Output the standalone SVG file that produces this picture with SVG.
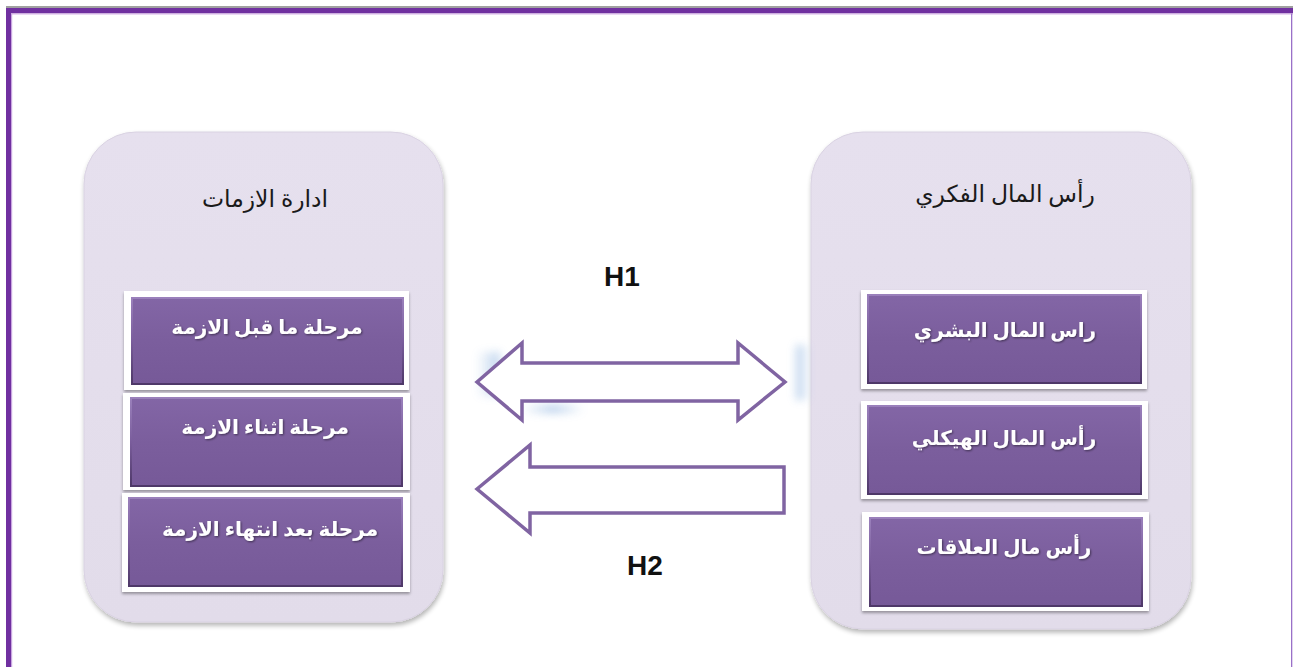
<svg xmlns="http://www.w3.org/2000/svg" width="1293" height="667" viewBox="0 0 1293 667">
<style>
.container{fill:url(#contGrad);stroke:#d9d2e2;stroke-width:1}
.boxOuter{fill:#ffffff}
.boxInner{fill:url(#boxGrad)}
.bevel{fill:none;stroke:url(#bevelGrad);stroke-width:2}
.title{font-family:"Liberation Serif","DejaVu Sans",serif;font-size:23.5px;fill:#1a1a1a;text-anchor:middle}
.label{font-family:"Liberation Serif","DejaVu Sans",serif;font-size:20px;font-weight:bold;fill:#ffffff;text-anchor:middle}
.h{font-family:"Liberation Sans",Arial,sans-serif;font-size:28px;font-weight:bold;fill:#111111;text-anchor:middle}
.arrow{fill:#ffffff;stroke:#8064a2;stroke-width:3.5;stroke-linejoin:miter}
</style>
<defs>
<linearGradient id="contGrad" x1="0" y1="0" x2="0" y2="1">
<stop offset="0" stop-color="#e6e0ee"/>
<stop offset="1" stop-color="#e2dcea"/>
</linearGradient>
<linearGradient id="boxGrad" x1="0" y1="0" x2="0" y2="1">
<stop offset="0" stop-color="#8366a6"/>
<stop offset="0.5" stop-color="#7b5e9d"/>
<stop offset="1" stop-color="#765998"/>
</linearGradient>
<linearGradient id="bevelGrad" x1="0" y1="0" x2="0" y2="1">
<stop offset="0" stop-color="#9a80bb"/>
<stop offset="0.5" stop-color="#7a5d9c"/>
<stop offset="1" stop-color="#4e3868"/>
</linearGradient>
<linearGradient id="blueH" x1="0" y1="0" x2="1" y2="0">
<stop offset="0" stop-color="#8fb4e0" stop-opacity="0"/>
<stop offset="0.5" stop-color="#8fb4e0" stop-opacity="0.9"/>
<stop offset="1" stop-color="#8fb4e0" stop-opacity="0"/>
</linearGradient>
<linearGradient id="blueL" x1="1" y1="0" x2="0" y2="0">
<stop offset="0" stop-color="#8fb4e0" stop-opacity="0.8"/>
<stop offset="1" stop-color="#8fb4e0" stop-opacity="0"/>
</linearGradient>
<linearGradient id="blueR" x1="0" y1="0" x2="1" y2="0">
<stop offset="0" stop-color="#8fb4e0" stop-opacity="0.9"/>
<stop offset="1" stop-color="#8fb4e0" stop-opacity="0"/>
</linearGradient>
<filter id="shadow" x="-10%" y="-10%" width="120%" height="120%">
<feGaussianBlur in="SourceAlpha" stdDeviation="2.5"/>
<feOffset dx="1" dy="3" result="b"/>
<feComponentTransfer><feFuncA type="linear" slope="0.3"/></feComponentTransfer>
<feMerge><feMergeNode/><feMergeNode in="SourceGraphic"/></feMerge>
</filter>
<filter id="bshadow" x="-10%" y="-10%" width="120%" height="130%">
<feGaussianBlur in="SourceAlpha" stdDeviation="1.5"/>
<feOffset dx="0" dy="2"/>
<feComponentTransfer><feFuncA type="linear" slope="0.35"/></feComponentTransfer>
<feMerge><feMergeNode/><feMergeNode in="SourceGraphic"/></feMerge>
</filter>
<filter id="blur" x="-50%" y="-50%" width="200%" height="200%">
<feGaussianBlur stdDeviation="4"/>
</filter>
<filter id="tshadow" x="-5%" y="-20%" width="110%" height="140%">
<feGaussianBlur in="SourceAlpha" stdDeviation="0.8"/>
<feOffset dx="1" dy="1"/>
<feComponentTransfer><feFuncA type="linear" slope="0.5"/></feComponentTransfer>
<feMerge><feMergeNode/><feMergeNode in="SourceGraphic"/></feMerge>
</filter>
</defs>

<rect x="0" y="0" width="1293" height="667" fill="#ffffff"/>

<g id="frame">
<rect x="6" y="6" width="1287" height="2" fill="#a0a0a0"/>
<rect x="6" y="8" width="1287" height="5.5" fill="#7030a0"/>
<rect x="11" y="13.5" width="1282" height="1.2" fill="#e3c8f0"/>
<rect x="6" y="8" width="5" height="659" fill="#7030a0"/>
<rect x="11" y="13.5" width="1.2" height="654" fill="#c9a6e0"/>
<rect x="1291" y="13.5" width="1.3" height="654" fill="#9a70c8"/>
</g>

<g id="left-container">
<rect class="container" x="84" y="132" width="359" height="490" rx="52" ry="52" filter="url(#shadow)"/>
<text class="title" x="265" y="207">ادارة الازمات</text>
</g>

<g id="left-box-1">
<rect class="boxOuter" x="124" y="291" width="285" height="99" filter="url(#bshadow)"/>
<rect class="boxInner" x="131" y="297" width="273" height="88"/>
<rect class="bevel" x="132" y="298" width="271" height="86"/>
<text class="label" x="267" y="334" filter="url(#tshadow)">مرحلة ما قبل الازمة</text>
</g>
<g id="left-box-2">
<rect class="boxOuter" x="123" y="393" width="287" height="97" filter="url(#bshadow)"/>
<rect class="boxInner" x="130" y="397" width="273" height="90"/>
<rect class="bevel" x="131" y="398" width="271" height="88"/>
<text class="label" x="265" y="434" filter="url(#tshadow)">مرحلة اثناء الازمة</text>
</g>
<g id="left-box-3">
<rect class="boxOuter" x="122" y="493" width="288" height="99" filter="url(#bshadow)"/>
<rect class="boxInner" x="128" y="497" width="275" height="90"/>
<rect class="bevel" x="129" y="498" width="273" height="88"/>
<text class="label" x="270" y="536" filter="url(#tshadow)">مرحلة بعد انتهاء الازمة</text>
</g>

<g id="right-container">
<rect class="container" x="811" y="132" width="380" height="497" rx="52" ry="52" filter="url(#shadow)"/>
<text class="title" x="1005" y="202">رأس المال الفكري</text>
</g>

<g id="right-box-1">
<rect class="boxOuter" x="861" y="290" width="286" height="99" filter="url(#bshadow)"/>
<rect class="boxInner" x="867" y="294" width="275" height="90"/>
<rect class="bevel" x="868" y="295" width="273" height="88"/>
<text class="label" x="1005" y="337" filter="url(#tshadow)">راس المال البشري</text>
</g>
<g id="right-box-2">
<rect class="boxOuter" x="861" y="401" width="287" height="98" filter="url(#bshadow)"/>
<rect class="boxInner" x="867" y="405" width="275" height="90"/>
<rect class="bevel" x="868" y="406" width="273" height="88"/>
<text class="label" x="1004" y="445" filter="url(#tshadow)">رأس المال الهيكلي</text>
</g>
<g id="right-box-3">
<rect class="boxOuter" x="862" y="512" width="287" height="99" filter="url(#bshadow)"/>
<rect class="boxInner" x="869" y="517" width="274" height="90"/>
<rect class="bevel" x="870" y="518" width="272" height="88"/>
<text class="label" x="1004" y="554" filter="url(#tshadow)">رأس مال العلاقات</text>
</g>

<g id="connectors">
<g filter="url(#blur)" opacity="0.7">
<rect x="476" y="352" width="24" height="44" fill="url(#blueL)"/>
<rect x="522" y="405" width="62" height="8" fill="url(#blueH)"/>
<rect x="796" y="345" width="14" height="55" fill="url(#blueR)"/>
</g>
<path class="arrow" d="M477,382 L522,343 L522,363 L738,363 L738,343 L785,382 L738,420 L738,401 L522,401 L522,420 Z"/>
<path class="arrow" d="M477,489 L530,445 L530,467 L784,467 L784,513 L530,513 L530,533 Z"/>
<text class="h" x="622" y="286">H1</text>
<text class="h" x="645" y="575">H2</text>
</g>
</svg>
